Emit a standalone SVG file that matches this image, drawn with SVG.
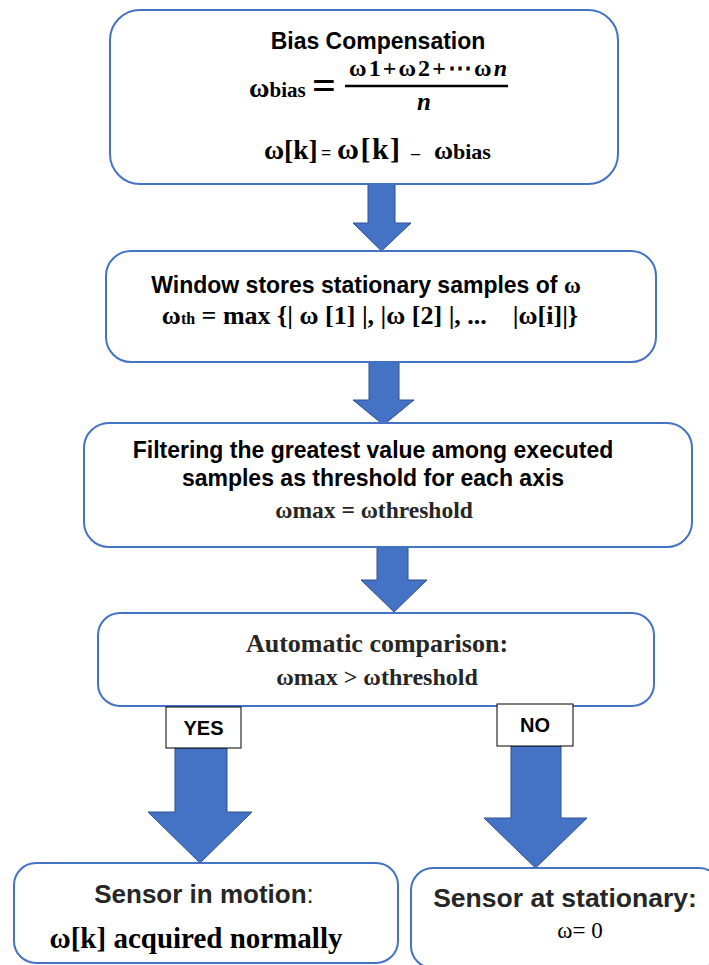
<svg xmlns="http://www.w3.org/2000/svg" width="709" height="965" viewBox="0 0 709 965">
<style>
.box{fill:#fff;stroke:#4472C4;stroke-width:2}
.arr{fill:#4472C4;stroke:#2F528F;stroke-width:1}
.lab{fill:#fff;stroke:#000;stroke-width:1}
.sans{font-family:"Liberation Sans",Arial,sans-serif;font-weight:bold;fill:#000}
.serif{font-family:"Liberation Serif","Times New Roman",serif;font-weight:bold;fill:#000}
.grey{fill:#262626}
</style>
<rect width="709" height="965" fill="#fff"/>
<g id="connectors">
<polygon class="arr" points="368,184 395,184 395,223 411,223 381.5,251 353,223 368,223"/>
<polygon class="arr" points="369,362 399,362 399,400 414,400 383.5,425 353,400 369,400"/>
<polygon class="arr" points="377,545 408,545 408,580 427,580 394,612 361,580 377,580"/>
<polygon class="arr" points="175,748 227,748 227,812 252,812 200,863 148,812 175,812"/>
<polygon class="arr" points="511,746 561,746 561,818 587,818 535.5,868 484,818 511,818"/>
</g>
<g id="n1">
<rect class="box" x="110" y="10" width="508" height="174" rx="30"/>
<text class="sans" x="378" y="49" text-anchor="middle" font-size="23">Bias Compensation</text>
<text class="serif" x="249" y="97"><tspan font-size="28">ω</tspan><tspan font-size="21">bias</tspan></text>
<text class="serif" x="312" y="99" font-size="42">=</text>
<text class="serif" x="349" y="76" font-size="24" font-family="'DejaVu Serif',serif" textLength="158" lengthAdjust="spacing">ω1+ω2+⋯ω<tspan font-style="italic">n</tspan></text>
<line x1="345" y1="86" x2="508" y2="86" stroke="#000" stroke-width="2.5"/>
<text class="serif" x="424" y="110" text-anchor="middle" font-size="25" font-style="italic" font-family="'DejaVu Serif',serif">n</text>
<text class="serif" y="159"><tspan x="264" font-size="27.5">ω[k]</tspan><tspan x="321" font-size="18">=</tspan><tspan x="337" font-size="30" letter-spacing="1.5">ω[k]</tspan><tspan x="411" font-size="18">–</tspan><tspan x="434" font-size="26">ω</tspan><tspan font-size="22">bias</tspan></text>
</g>
<g id="n2">
<rect class="box" x="106" y="251" width="550" height="111" rx="25"/>
<text class="sans" x="366" y="293" text-anchor="middle" font-size="23">Window stores stationary samples of <tspan class="serif">ω</tspan></text>
<text class="serif" x="370" y="324" text-anchor="middle" font-size="26" xml:space="preserve">ω<tspan font-size="16">th</tspan> = max {| ω [1] |, |ω [2] |, ...    |ω[i]|}</text>
</g>
<g id="n3">
<rect class="box" x="84" y="423" width="608" height="124" rx="25"/>
<text class="sans" x="373" y="458" text-anchor="middle" font-size="23">Filtering the greatest value among executed</text>
<text class="sans" x="373" y="486" text-anchor="middle" font-size="23">samples as threshold for each axis</text>
<text class="serif grey" x="374" y="518" text-anchor="middle" font-size="23.5">ωmax = ωthreshold</text>
</g>
<g id="n4">
<rect class="box" x="98" y="613" width="556" height="93" rx="22"/>
<text class="serif grey" x="377" y="652" text-anchor="middle" font-size="26">Automatic comparison:</text>
<text class="serif grey" x="377" y="685" text-anchor="middle" font-size="24">ωmax &gt; ωthreshold</text>
</g>
<g id="yes">
<rect class="lab" x="166" y="707" width="75" height="41"/>
<text class="sans" x="203.5" y="735" text-anchor="middle" font-size="20">YES</text>
</g>
<g id="no">
<rect class="lab" x="497" y="704" width="76" height="42"/>
<text class="sans" x="535" y="732" text-anchor="middle" font-size="20">NO</text>
</g>
<g id="n5">
<rect class="box" x="14" y="863" width="384" height="100" rx="22"/>
<text class="sans grey" x="204" y="903" text-anchor="middle" font-size="26">Sensor in motion<tspan font-weight="normal">:</tspan></text>
<text class="serif" x="196" y="948" text-anchor="middle" font-size="29">ω[k] acquired normally</text>
</g>
<g id="n6">
<rect class="box" x="411" y="868" width="310" height="100" rx="22"/>
<text class="sans grey" x="565" y="907" text-anchor="middle" font-size="26.5">Sensor at stationary:</text>
<text class="serif" x="580" y="938" text-anchor="middle" font-size="23" style="font-weight:normal">ω= 0</text>
</g>
</svg>
